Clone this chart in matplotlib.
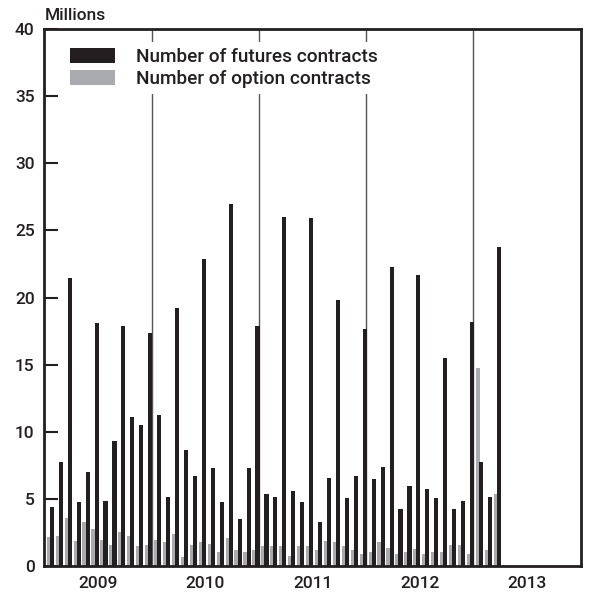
import matplotlib
matplotlib.use("Agg")
import matplotlib.pyplot as plt
import numpy as np

plt.rcParams['font.family'] = ['Roboto', 'Liberation Sans', 'DejaVu Sans']
plt.rcParams['font.weight'] = 'medium'

# Monthly volumes, Jan 2009 - Mar 2013 (millions of contracts)
futures = [4.4, 7.8, 21.5, 4.8, 7.0, 18.1, 4.9, 9.3, 17.9, 11.1, 10.5, 17.4,
           11.3, 5.2, 19.2, 8.7, 6.7, 22.9, 7.3, 4.8, 27.0, 3.5, 7.3, 17.9,
           5.4, 5.2, 26.0, 5.6, 4.8, 25.9, 3.3, 6.6, 19.8, 5.1, 6.7, 17.7,
           6.5, 7.4, 22.3, 4.3, 6.0, 21.7, 5.8, 5.1, 15.5, 4.3, 4.9, 18.2,
           7.8, 5.2, 23.8]
options = [2.2, 2.3, 3.6, 1.9, 3.3, 2.8, 2.0, 1.6, 2.6, 2.3, 1.5, 1.6,
           2.0, 1.8, 2.4, 0.7, 1.6, 1.8, 1.7, 1.1, 2.1, 1.2, 1.1, 1.2,
           1.5, 1.5, 1.5, 0.8, 1.5, 1.5, 1.2, 1.9, 1.8, 1.5, 1.2, 0.9,
           1.1, 1.8, 1.4, 0.9, 1.1, 1.3, 0.9, 1.1, 1.1, 1.6, 1.6, 0.9,
           14.8, 1.2, 5.4]
years = ['2009', '2010', '2011', '2012', '2013']

dark = '#231f20'
grey = '#a9abae'

fig = plt.figure(figsize=(5.92, 6.02), dpi=100)
ax = fig.add_axes([0.075, 0.059, 0.906, 0.893])

m = np.arange(len(futures))
ax.bar(m + 0.49, options, width=0.46, color=grey, zorder=2,
       label='Number of option contracts')
ax.bar(m + 0.84, futures, width=0.46, color=dark, zorder=3,
       label='Number of futures contracts')

# year dividers
for b in [12, 24, 36, 48]:
    ax.axvline(b, color='#555555', lw=1, zorder=1)

ax.set_xlim(0, 60)
ax.set_ylim(0, 40)
ax.set_yticks(range(0, 41, 5))
ax.set_xticks([6 + 12 * i for i in range(len(years))])
ax.set_xticklabels(years)
ax.tick_params(axis='y', direction='in', length=10, width=1.5, color=dark,
               labelsize=12.5, pad=7, labelcolor=dark)
ax.tick_params(axis='x', length=0, labelsize=12.5, pad=7, labelcolor=dark)
for s in ax.spines.values():
    s.set_linewidth(2)
    s.set_color(dark)

h, l = ax.get_legend_handles_labels()
leg = ax.legend(h[::-1], l[::-1], loc='upper left', bbox_to_anchor=(0.02, 0.993),
                fontsize=13.7, frameon=True, facecolor='white', edgecolor='none',
                framealpha=1, fancybox=False, handlelength=2.35, handleheight=0.8,
                handletextpad=1.1, labelspacing=0.22, borderpad=0.3)
leg.set_zorder(5)
for t in leg.get_texts():
    t.set_color(dark)

fig.text(0.076, 0.975, 'Millions', fontsize=12.5, ha='left', va='center',
         color=dark)

fig.savefig('out.png', dpi=100)
